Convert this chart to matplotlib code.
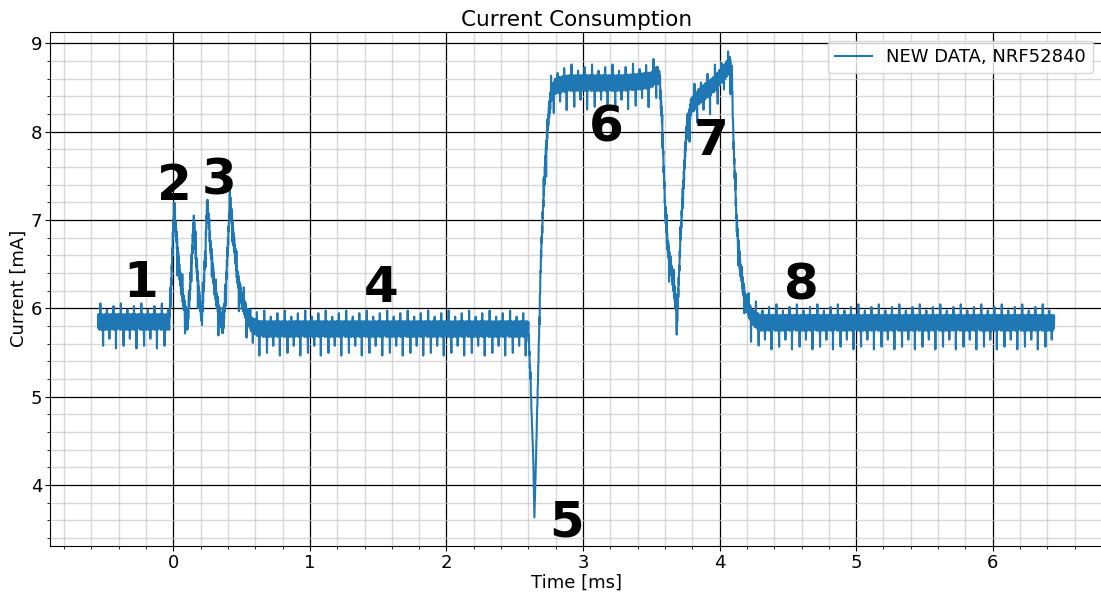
import numpy as np
import matplotlib
matplotlib.use("Agg")
import matplotlib.pyplot as plt
from matplotlib.ticker import MultipleLocator

# Mean current trace (ms, mA) through the phases of the radio event
trace_t = [-0.55, -0.03, -0.015, 0.005, 0.02, 0.045, 0.075, 0.105, 0.125, 0.15,
           0.17, 0.19, 0.21, 0.23, 0.248, 0.27, 0.30, 0.335, 0.365, 0.39,
           0.415, 0.44, 0.47, 0.50, 0.54, 0.58, 0.63, 2.60, 2.615, 2.628,
           2.636, 2.643, 2.65, 2.658, 2.675, 2.69, 2.715, 2.74, 2.765, 2.80,
           2.90, 3.30, 3.50, 3.54, 3.56, 3.58, 3.60, 3.62, 3.66, 3.69,
           3.72, 3.755, 3.79, 3.85, 3.95, 4.05, 4.075, 4.09, 4.10, 4.125,
           4.15, 4.185, 4.235, 4.30, 6.45]
trace_i = [5.845, 5.845, 6.30, 7.15, 6.85, 6.40, 6.08, 5.82, 6.30, 6.98,
           6.50, 6.10, 5.90, 6.50, 7.20, 6.75, 6.25, 5.95, 5.78, 6.40,
           7.24, 6.80, 6.35, 6.10, 5.92, 5.80, 5.765, 5.765, 5.20, 4.60,
           4.30, 3.58, 3.95, 4.45, 5.50, 6.50, 7.40, 8.05, 8.42, 8.52,
           8.55, 8.55, 8.58, 8.66, 8.60, 8.10, 7.15, 6.70, 6.30, 5.92,
           7.00, 7.95, 8.28, 8.40, 8.52, 8.70, 8.76, 8.65, 7.95, 6.97,
           6.48, 6.10, 5.90, 5.835, 5.835]
# Ripple strength along the trace (quiet during the deep dip)
ripple_gain = [1.0] * 28 + [0.6, 0.3, 0.1, 0.0, 0.1, 0.3, 0.6] + [1.0] * 30

# One 0.15 ms stretch of supply ripple, sampled every 2 us (mA)
ripple = [0.08, -0.07, 0.09, -0.08, 0.06, -0.09, 0.07, -0.06, 0.21, -0.08,
          0.08, -0.07, 0.05, -0.09, 0.09, -0.06, 0.07, -0.08, -0.27, 0.06,
          -0.07, 0.08, -0.05, 0.09, -0.08, 0.07, -0.09, 0.06, -0.07, 0.08,
          -0.06, 0.09, 0.14, -0.08, 0.07, -0.09, 0.05, -0.07, 0.08, -0.06,
          0.09, -0.19, 0.07, -0.08, 0.06, -0.09, 0.08, -0.07, 0.09, -0.05,
          0.07, -0.08, 0.09, -0.06, 0.08, -0.07, 0.18, -0.09, 0.06, -0.08,
          0.07, -0.06, 0.09, -0.07, 0.08, -0.30, 0.06, -0.09, 0.07, -0.08,
          0.09, -0.06, 0.08, -0.07, 0.05]
sample_step = 0.002  # ms

# Phase labels
phase_names = ["1", "2", "3", "4", "5", "6", "7", "8"]
phase_t = [-0.24, 0.01, 0.335, 1.52, 2.88, 3.17, 3.94, 4.60]
phase_i = [6.29, 7.38, 7.45, 6.23, 3.58, 8.05, 7.89, 6.26]

# Build the sampled record
t = np.arange(trace_t[0], trace_t[-1] + sample_step / 2, sample_step)
base = np.interp(t, trace_t, trace_i)
gain = np.interp(t, trace_t, ripple_gain)
noise = np.resize(np.array(ripple), t.size)
current = base + gain * noise

fig = plt.figure(figsize=(11.01, 5.92), dpi=100)
ax = fig.add_axes([50.4 / 1101, 1 - 546 / 592, (1102 - 50.4) / 1101, (546 - 31.7) / 592])

ax.plot(t, current, color="#1f77b4", lw=1.5, label="NEW DATA, NRF52840")

for name, x, y in zip(phase_names, phase_t, phase_i):
    ax.text(x, y, name, fontsize=36, fontweight="bold", ha="center", va="center")

ax.set_xlim(-0.9, 6.8)
ax.set_ylim(3.309, 9.131)
ax.xaxis.set_major_locator(MultipleLocator(1))
ax.xaxis.set_minor_locator(MultipleLocator(0.2))
ax.yaxis.set_major_locator(MultipleLocator(1))
ax.yaxis.set_minor_locator(MultipleLocator(0.2))
ax.grid(which="major", color="black", lw=0.9)
ax.grid(which="minor", color="#c8c8c8", lw=1.0, alpha=0.7)
ax.set_axisbelow(True)
ax.tick_params(labelsize=13, pad=2.5)

ax.set_title("Current Consumption", fontsize=15.5, pad=4)
ax.set_xlabel("Time [ms]", fontsize=13, labelpad=1)
ax.set_ylabel("Current [mA]", fontsize=13, labelpad=2)
ax.legend(loc="upper right", fontsize=13)

fig.savefig("out.png", dpi=100)
